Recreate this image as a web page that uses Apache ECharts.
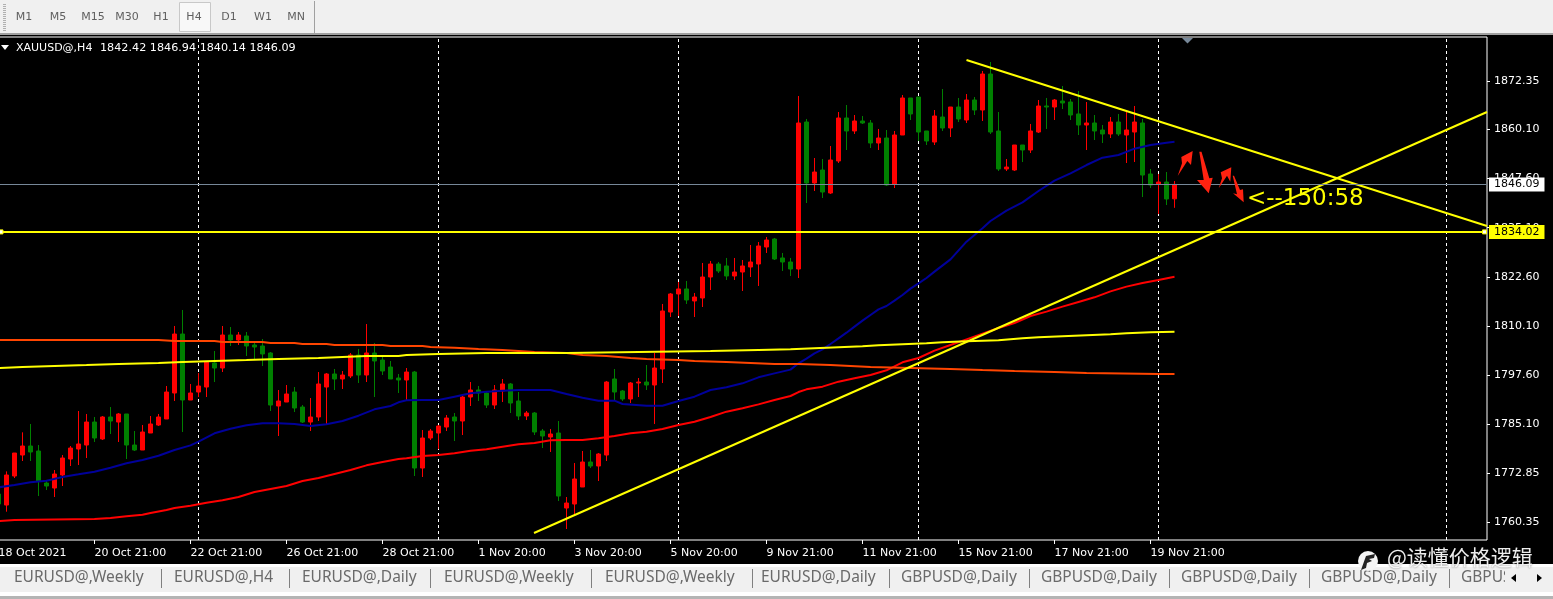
<!DOCTYPE html>
<html><head><meta charset="utf-8">
<style>html,body{margin:0;padding:0;background:#000;overflow:hidden}#c{width:1553px;height:599px}</style>
<script src="https://cdn.jsdelivr.net/npm/echarts@6/dist/echarts.min.js"></script>
</head><body><div id="c"></div>
<script>
const firstIndex = -1;
const opens = [1767.46,1764.66,1772.03,1777.36,1779.65,1778.38,1770.25,1768.98,1772.28,1776.35,1778.89,1779.90,1785.74,1781.43,1787.02,1785.74,1787.78,1779.90,1778.63,1782.95,1784.98,1786.51,1793.11,1808.09,1791.33,1793.36,1794.63,1800.73,1799.46,1807.84,1806.57,1807.59,1805.30,1805.05,1803.27,1789.81,1790.82,1793.36,1789.55,1785.74,1787.02,1794.63,1797.94,1796.67,1797.43,1802.76,1797.68,1803.27,1801.49,1799.71,1796.92,1796.41,1798.44,1774.06,1781.68,1782.95,1784.47,1787.02,1786.00,1792.09,1793.87,1793.11,1790.06,1793.62,1795.40,1791.08,1787.27,1788.03,1783.46,1781.93,1782.95,1763.90,1764.92,1769.24,1775.59,1774.57,1777.36,1796.67,1793.62,1791.59,1795.65,1795.90,1795.14,1799.21,1813.68,1818.26,1819.53,1816.48,1817.24,1822.57,1825.87,1825.37,1822.83,1823.84,1825.11,1825.87,1830.19,1832.22,1827.40,1826.38,1824.60,1861.93,1846.44,1849.74,1843.90,1852.03,1862.95,1859.65,1862.19,1861.68,1856.60,1857.87,1846.19,1858.63,1868.03,1868.28,1859.65,1856.85,1863.20,1860.41,1865.74,1862.44,1867.52,1864.98,1874.12,1859.65,1850.00,1849.74,1856.09,1854.82,1859.39,1866.00,1865.74,1867.27,1867.01,1863.97,1861.17,1861.68,1859.90,1858.89,1861.93,1858.63,1859.39,1861.68,1848.73,1846.19,1846.69,1842.42];
const closes = [1764.92,1772.28,1777.87,1779.65,1778.13,1770.76,1769.49,1772.54,1776.60,1779.14,1780.16,1785.74,1781.68,1787.02,1786.00,1787.78,1779.90,1778.63,1783.21,1785.24,1787.02,1793.36,1808.09,1791.33,1793.11,1794.89,1800.98,1799.46,1807.84,1806.57,1807.84,1805.05,1804.79,1803.02,1790.06,1791.08,1792.86,1789.30,1785.74,1787.02,1795.40,1797.94,1796.67,1797.68,1802.76,1797.68,1803.27,1801.24,1798.70,1796.67,1796.41,1798.44,1774.06,1781.68,1783.46,1784.73,1786.76,1786.00,1792.09,1793.87,1793.11,1790.06,1793.87,1795.40,1790.57,1787.27,1788.03,1783.21,1782.19,1782.70,1766.95,1765.17,1771.27,1775.59,1774.57,1777.62,1795.90,1793.36,1791.59,1795.65,1795.90,1795.14,1799.46,1813.94,1818.26,1819.53,1816.73,1817.49,1822.57,1825.87,1824.10,1822.83,1823.84,1825.37,1826.38,1830.45,1831.97,1827.14,1826.38,1824.60,1861.68,1846.44,1849.23,1844.15,1852.28,1862.95,1859.65,1862.19,1861.68,1856.60,1857.87,1845.93,1858.63,1868.03,1863.97,1859.39,1857.11,1863.46,1860.41,1865.74,1862.70,1867.52,1864.98,1874.12,1859.39,1850.00,1850.50,1856.09,1854.82,1859.65,1866.00,1865.74,1867.52,1866.76,1863.71,1861.17,1861.68,1859.65,1858.89,1861.93,1858.89,1859.90,1861.93,1848.47,1845.93,1846.69,1842.38,1846.09];
const lows = [1763.40,1762.97,1771.52,1775.84,1775.84,1766.95,1768.47,1766.70,1769.49,1774.57,1774.82,1776.60,1780.67,1781.17,1782.70,1780.67,1776.35,1778.38,1778.63,1782.95,1784.73,1786.51,1791.08,1783.21,1791.33,1792.09,1792.09,1795.90,1798.44,1805.05,1805.30,1802.51,1801.75,1799.97,1788.54,1782.19,1790.82,1788.28,1785.49,1783.46,1786.00,1785.24,1793.87,1794.13,1796.92,1795.65,1795.90,1792.09,1797.68,1796.67,1793.11,1791.33,1772.03,1771.78,1781.17,1778.89,1783.46,1780.92,1782.44,1789.81,1791.08,1789.30,1789.05,1790.82,1788.03,1786.25,1786.25,1782.44,1779.14,1778.13,1765.68,1758.57,1762.12,1769.24,1774.06,1770.76,1775.84,1791.33,1791.08,1790.57,1792.09,1793.87,1785.24,1795.65,1812.41,1812.67,1815.72,1812.41,1814.95,1819.27,1823.59,1821.81,1821.81,1819.02,1822.57,1820.29,1828.67,1826.89,1824.10,1822.83,1822.31,1841.36,1844.41,1842.63,1843.65,1851.52,1854.82,1858.89,1861.43,1855.33,1854.82,1845.68,1845.17,1858.63,1862.44,1857.11,1856.09,1856.09,1859.65,1858.12,1861.93,1861.68,1863.71,1862.19,1858.89,1849.49,1849.49,1849.49,1851.77,1854.06,1859.14,1860.16,1862.44,1865.23,1862.44,1858.63,1854.82,1857.36,1856.60,1857.87,1858.38,1851.52,1851.77,1842.88,1845.17,1838.57,1840.85,1840.14];
const highs = [1768.47,1773.21,1777.87,1783.12,1785.24,1779.90,1771.01,1773.55,1777.36,1779.65,1788.54,1787.78,1787.02,1787.27,1789.55,1788.03,1787.78,1783.46,1784.98,1787.27,1787.78,1794.89,1810.13,1814.19,1795.40,1798.19,1800.98,1803.78,1810.13,1809.87,1808.60,1808.60,1806.06,1806.82,1803.52,1793.87,1795.14,1794.63,1790.06,1791.84,1798.44,1798.19,1799.21,1798.70,1803.27,1804.29,1810.63,1805.81,1802.51,1801.24,1797.94,1799.46,1798.70,1783.71,1783.97,1784.98,1787.52,1788.03,1792.35,1795.90,1794.89,1793.62,1795.14,1796.67,1795.65,1793.36,1788.54,1788.28,1783.97,1783.97,1786.00,1766.70,1775.33,1778.38,1778.63,1777.87,1796.16,1799.21,1793.87,1795.90,1796.92,1800.22,1803.27,1815.72,1818.51,1821.30,1821.56,1818.51,1826.13,1826.64,1826.38,1827.40,1827.40,1826.89,1830.70,1831.46,1832.73,1832.48,1828.67,1827.40,1868.54,1862.70,1852.79,1852.54,1855.84,1864.47,1866.25,1863.71,1863.46,1862.44,1860.16,1859.90,1859.65,1868.79,1868.03,1868.28,1859.65,1864.98,1870.31,1865.74,1868.03,1869.04,1868.28,1874.89,1877.17,1864.47,1852.54,1856.09,1856.09,1861.43,1867.52,1868.03,1867.77,1871.08,1867.77,1869.81,1867.01,1863.71,1861.17,1863.20,1863.97,1864.73,1866.00,1862.70,1850.00,1848.73,1849.23,1846.94];

const blueX = [-1,1,3,5,7,9,11,13,15,17,19,21,23,24,26,28,30,32,34,36,38,40,42,44,46,48,49,50,52,54,56,58,60,62,64,66,68,70,72,74,76,77,80,82,84,86,88,90,92,94,96,98,99,100,101,102,103,104,105,106,107,108,109,110,111,112,113,114,115,116,118,120,122,123,125,127,129,131,133,135,137,139,141,143,145,146];
const blueY = [1769.15,1769.74,1770.42,1770.84,1771.78,1772.45,1773.13,1774.15,1775.25,1776.09,1777.19,1778.63,1779.82,1780.75,1782.87,1784.05,1784.90,1785.41,1785.41,1785.24,1784.73,1785.15,1786.00,1787.35,1788.96,1789.81,1790.74,1791.25,1791.33,1791.33,1792.18,1793.03,1793.45,1793.70,1793.87,1793.87,1793.87,1792.86,1791.92,1791.16,1791.16,1790.32,1789.89,1789.89,1791.08,1792.18,1793.87,1794.55,1795.57,1797.09,1798.10,1799.05,1800.65,1801.83,1803.18,1804.20,1805.56,1806.99,1808.43,1809.96,1811.48,1812.92,1814.36,1815.21,1816.56,1818.00,1819.61,1820.96,1822.32,1823.93,1827.05,1831.54,1834.93,1836.79,1839.41,1841.53,1844.41,1847.03,1848.90,1851.01,1852.87,1853.55,1855.16,1856.09,1856.68,1856.94];

const redX = [-1,1,11,13,15,17,18,20,21,23,25,27,29,31,33,35,37,39,41,43,45,47,49,50,52,54,56,58,60,62,64,66,68,70,72,74,76,78,80,82,84,86,88,90,92,94,96,98,99,100,102,104,106,108,110,112,114,116,118,120,122,124,126,128,130,132,134,136,138,140,142,144,146];
const redY = [1760.60,1760.85,1761.11,1761.36,1761.79,1762.21,1762.63,1763.39,1763.90,1764.49,1765.26,1765.85,1766.70,1767.97,1768.73,1769.49,1770.76,1771.52,1772.54,1773.55,1774.74,1775.59,1776.35,1776.52,1777.11,1777.36,1777.79,1778.46,1778.80,1779.48,1780.07,1780.41,1781.09,1781.17,1781.17,1781.60,1782.19,1782.87,1783.29,1783.97,1784.98,1785.83,1787.02,1788.37,1789.22,1790.23,1791.33,1792.35,1793.36,1794.04,1794.72,1795.99,1796.84,1797.68,1798.87,1800.90,1802.00,1803.86,1805.30,1806.74,1808.18,1809.62,1810.89,1812.67,1813.77,1815.04,1816.22,1817.41,1818.93,1820.12,1821.05,1821.81,1822.66];

const orangeX = [-1,19,21,26,27,32,33,36,37,40,41,47,48,52,53,56,59,62,64,66,70,72,75,78,80,84,86,90,93,96,99,103,108,113,118,122,126,131,135,144,146];
const orangeY = [1806.57,1806.57,1806.32,1806.32,1806.06,1806.06,1805.81,1805.81,1805.56,1805.56,1805.30,1805.30,1805.05,1805.05,1804.79,1804.62,1804.29,1804.03,1803.78,1803.52,1803.27,1802.76,1802.51,1802.00,1801.75,1801.49,1801.24,1800.98,1800.73,1800.48,1800.48,1800.22,1799.71,1799.46,1799.21,1798.95,1798.70,1798.44,1798.19,1797.94,1797.94];

const yellowX = [-1,2,6,10,14,19,22,26,30,34,39,42,45,49,50,54,60,70,79,88,94,98,101,104,107,109,112,115,117,120,124,127,129,132,135,138,140,143,146];
const yellowY = [1799.46,1799.71,1799.97,1800.22,1800.48,1800.73,1800.98,1801.24,1801.49,1801.75,1802.00,1802.25,1802.51,1802.51,1802.76,1803.02,1803.27,1803.27,1803.52,1803.78,1804.03,1804.20,1804.45,1804.71,1804.96,1805.22,1805.47,1805.72,1805.98,1806.23,1806.49,1806.99,1807.25,1807.50,1807.76,1808.01,1808.26,1808.52,1808.69];

const trendDown = [[120,1877.68],[185.06,1835.53]];
const trendUp = [[65.94,1757.56],[185.06,1864.48]];
const currentPrice = 1846.09;
const levelPrice = 1834.02;
const separators = [24,54,84,114,144,180];
const priceTicks = [1872.35,1860.10,1847.60,1835.10,1822.60,1810.10,1797.60,1785.10,1772.85,1760.35];
const timeTickIdx = [-1,11,23,35,47,59,71,83,95,107,119,131,143];
const timeTicks = ['18 Oct 2021','20 Oct 21:00','22 Oct 21:00','26 Oct 21:00','28 Oct 21:00','1 Nov 20:00','3 Nov 20:00','5 Nov 20:00','9 Nov 21:00','11 Nov 21:00','15 Nov 21:00','17 Nov 21:00','19 Nov 21:00'];
const tfButtons = ['M1','M5','M15','M30','H1','H4','D1','W1','MN'];
const tabs = ['EURUSD@,Weekly','EURUSD@,H4','EURUSD@,Daily','EURUSD@,Weekly','EURUSD@,Weekly','EURUSD@,Daily','GBPUSD@,Daily','GBPUSD@,Daily','GBPUSD@,Daily','GBPUSD@,Daily','GBPUS'];

const chart = echarts.init(document.getElementById('c'), null, {renderer:'canvas', width:1553, height:599});
const F = '"DejaVu Sans"';
const zip = (xs, ys) => xs.map((x, k) => [x, ys[k]]);
const line = (name, data, color, z, width) => ({
  name, type:'line', data, showSymbol:false, symbol:'none', silent:true, z, clip:true,
  lineStyle:{color, width:width||2, cap:'butt'}, animation:false
});
const tfX = [24,58,93,127,161,194,229,263,296];
const tabX = [14,174,302,444,605,761,901,1041,1181,1321,1461];
const sepX = [161,289,430,591,752,889,1029,1169,1309,1449];

const gfx = [];
gfx.push({type:'rect',shape:{x:0,y:0,width:1553,height:33},style:{fill:'#f0f0f0'},z:50});
gfx.push({type:'rect',shape:{x:0,y:33,width:1553,height:2},style:{fill:'#a0a0a0'},z:50});
for(let y=4;y<32;y+=2) gfx.push({type:'rect',shape:{x:3,y,width:3,height:1},style:{fill:'#b0b0b0'},z:50});
gfx.push({type:'rect',shape:{x:179.5,y:2.5,width:31,height:29},style:{fill:'#f8f8f8',stroke:'#c8c8c8',lineWidth:1},z:50});
gfx.push({type:'rect',shape:{x:314,y:1,width:1,height:32},style:{fill:'#a0a0a0'},z:50});
tfButtons.forEach((t,k)=>gfx.push({type:'text',x:tfX[k],y:17,z:51,style:{text:t,fill:'#606060',font:'11px '+F,align:'center',verticalAlign:'middle'}}));
gfx.push({type:'polygon',shape:{points:[[1,45],[9,45],[5,50]]},style:{fill:'#fff'},z:51});
gfx.push({type:'text',x:16,y:48,z:51,style:{text:'XAUUSD@,H4',fill:'#fff',font:'11px '+F,verticalAlign:'middle'}});
gfx.push({type:'text',x:100,y:48,z:51,style:{text:'1842.42 1846.94 1840.14 1846.09',fill:'#fff',font:'11.2px '+F,verticalAlign:'middle'}});
gfx.push({type:'polygon',shape:{points:[[1182,38],[1193,38],[1187.5,43.5]]},style:{fill:'#778899'},z:51});
// red hand-drawn arrows
[[[1177.7,176],[1182,163.3],[1181.3,157],[1192.7,151],[1191,165],[1187.3,161]],
 [[1199.3,151.7],[1201.5,151.7],[1209.3,178.3],[1212.7,177.7],[1208.7,193.3],[1197,180],[1203.7,180]],
 [[1218.7,188.3],[1222,178.3],[1220.7,172.3],[1231.3,167.3],[1230.3,181.7],[1227,175.7]],
 [[1232.7,175.7],[1234,175.7],[1240,190],[1243,189.3],[1243.7,202.3],[1233,193.3],[1237,194.3]]
].forEach(p=>gfx.push({type:'polygon',shape:{points:p},style:{fill:'#ff2210'},z:30}));
// tab bar
gfx.push({type:'rect',shape:{x:0,y:564,width:1553,height:35},style:{fill:'#fff'},z:50});
gfx.push({type:'rect',shape:{x:0,y:567,width:1553,height:25},style:{fill:'#f0f0f0'},z:50});
gfx.push({type:'rect',shape:{x:0,y:596,width:1553,height:3},style:{fill:'#b4b4b4'},z:50});
tabs.forEach((t,k)=>gfx.push({type:'text',x:tabX[k],y:578,z:51,style:{text:t,fill:'#6a6a6a',font:'15.5px "Noto Sans"',verticalAlign:'middle'}}));
sepX.forEach(x=>gfx.push({type:'rect',shape:{x,y:569,width:1,height:19},style:{fill:'#808080'},z:51}));
gfx.push({type:'rect',shape:{x:1505,y:567,width:48,height:25},style:{fill:'#f0f0f0'},z:51});
gfx.push({type:'polygon',shape:{points:[[1516,574],[1516,582],[1511,578]]},style:{fill:'#000'},z:52});
gfx.push({type:'polygon',shape:{points:[[1537,574],[1537,582],[1542,578]]},style:{fill:'#000'},z:52});
// watermark
gfx.push({type:'circle',shape:{cx:1368,cy:561,r:10},style:{fill:'#f4f4f4'},z:53});
gfx.push({type:'polygon',shape:{points:[[1361,570],[1366,556],[1375,554],[1374,558],[1369,559],[1372,561],[1367,563],[1366,568]]},style:{fill:'#222'},z:54});
gfx.push({type:'text',x:1387,y:557,z:54,style:{text:'@读懂价格逻辑',fill:'rgba(250,250,250,0.95)',font:'21px "Noto Sans CJK SC"',verticalAlign:'middle',textShadowColor:'rgba(0,0,0,0.6)',textShadowBlur:2}});

chart.setOption({
  animation:false,
  backgroundColor:'#000',
  grid:{left:-2,top:37,width:1489,height:503,show:true,backgroundColor:'#000',borderColor:'#fff',borderWidth:1,containLabel:false,outerBoundsMode:'none'},
  xAxis:{type:'value',min:-1.0625,max:185.0625,position:'bottom',
    axisLine:{show:false,onZero:false},splitLine:{show:false},minorTick:{show:false},
    axisTick:{show:true,inside:false,length:4,lineStyle:{color:'#fff'},customValues:timeTickIdx},
    axisLabel:{color:'#fff',fontFamily:'DejaVu Sans',fontSize:11,align:'left',margin:8,customValues:timeTickIdx,showMinLabel:true,showMaxLabel:true,hideOverlap:false,
      formatter:v=>timeTicks[timeTickIdx.indexOf(v)]||''}},
  yAxis:{type:'value',min:1755.78,max:1883.52,position:'right',scale:true,
    axisLine:{show:false,onZero:false},splitLine:{show:false},
    axisTick:{show:true,length:3,lineStyle:{color:'#fff'},customValues:priceTicks},
    axisLabel:{color:'#fff',fontFamily:'DejaVu Sans',fontSize:11,margin:7,customValues:priceTicks,formatter:v=>v.toFixed(2)}},
  graphic:{elements:gfx},
  series:[
    {type:'line',data:[],silent:true,z:1,symbol:'none',
      markLine:{silent:true,symbol:'none',animation:false,z:1,label:{show:false},lineStyle:{color:'#fff',width:1,type:[3,3]},data:separators.map(v=>({xAxis:v}))}},
    {type:'line',data:[],silent:true,z:2,symbol:'none',
      markLine:{silent:true,symbol:'none',animation:false,z:6,lineStyle:{color:'#778899',width:1,type:'solid'},
        label:{show:true,position:'end',distance:2,formatter:()=>currentPrice.toFixed(2),backgroundColor:'#fff',color:'#000',fontFamily:'DejaVu Sans',fontSize:11,padding:[2,5,1,5]},
        data:[{yAxis:currentPrice}]}},
    {name:'XAUUSD',type:'candlestick',z:3,silent:true,barWidth:5,clip:true,
      encode:{x:0,y:[1,2,3,4]},
      data:opens.map((o,k)=>[firstIndex+k,o,closes[k],lows[k],highs[k]]),
      itemStyle:{color:'#ff0000',color0:'#008000',borderColor:'#ff0000',borderColor0:'#008000',borderWidth:1}},
    line('MA blue',zip(blueX,blueY),'#00009a',4),
    line('MA red',zip(redX,redY),'#ff0000',4),
    line('MA orange',zip(orangeX,orangeY),'#ff4500',4),
    line('MA yellow',zip(yellowX,yellowY),'#ffff00',4),
    line('Trend down',trendDown,'#ffff00',5),
    line('Trend up',trendUp,'#ffff00',5),
    {type:'line',data:[],silent:true,z:5,symbol:'none',
      markLine:{silent:true,symbol:'none',animation:false,z:7,lineStyle:{color:'#ffff00',width:2,type:'solid'},
        label:{show:true,position:'end',distance:2,formatter:()=>levelPrice.toFixed(2),backgroundColor:'#ffff00',color:'#000',fontFamily:'DejaVu Sans',fontSize:11,padding:[2,5,1,5]},
        data:[{yAxis:levelPrice}]}},
    {type:'scatter',silent:true,z:8,symbol:'rect',symbolSize:4,data:[[-0.69,levelPrice],[184.75,levelPrice]],itemStyle:{color:'#fff',borderColor:'#ffff00',borderWidth:1,opacity:1}},
    {type:'scatter',silent:true,z:8,symbolSize:0,data:[[155.05,1842.4]],itemStyle:{opacity:1},
      label:{show:true,position:'right',distance:0,formatter:'<--150:58',color:'#ffff00',opacity:1,fontFamily:'DejaVu Sans',fontSize:23}}
  ]
});
</script></body></html>
